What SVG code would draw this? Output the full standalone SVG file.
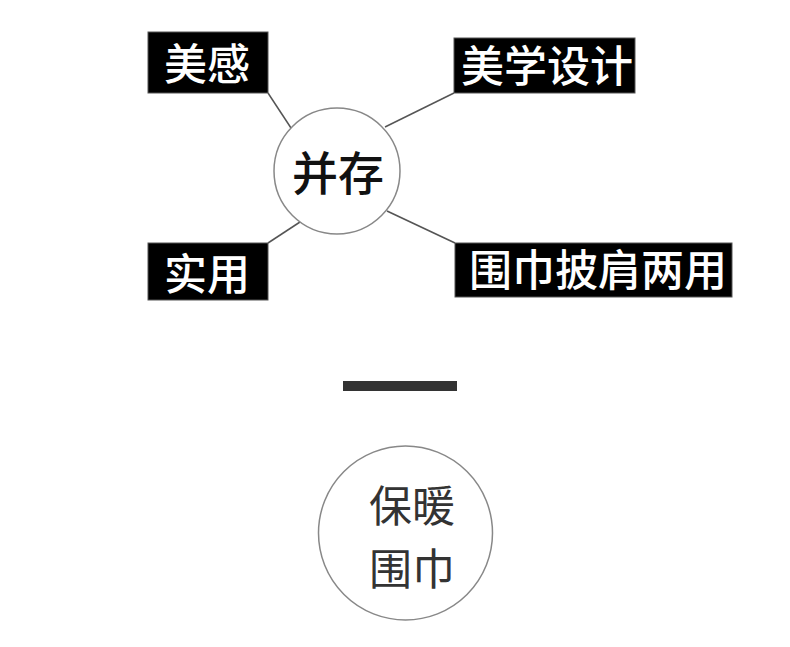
<svg xmlns="http://www.w3.org/2000/svg" width="790" height="647" viewBox="0 0 790 647">
<style>
.box{fill:#000;stroke:#555;stroke-width:1}
.bt{fill:#fff;font-family:"Noto Sans CJK SC","Noto Sans",sans-serif;font-size:43px;font-weight:500}
.ct{fill:#111;font-family:"Noto Sans CJK SC","Noto Sans",sans-serif;font-size:46px;font-weight:500;text-anchor:middle}
.circ{fill:#fff;stroke:#888;stroke-width:1.5}
.conn{stroke:#555;stroke-width:1.5;fill:none}
</style>
<rect width="790" height="647" fill="#fff"/>
<g id="connectors">
<line class="conn" x1="268" y1="93" x2="291" y2="128"/>
<line class="conn" x1="454" y1="93" x2="385" y2="127"/>
<line class="conn" x1="300" y1="222" x2="268" y2="243"/>
<line class="conn" x1="387" y1="211" x2="455" y2="243"/>
</g>
<g id="center">
<circle class="circ" cx="337" cy="171" r="63"/>
<text class="ct" x="338" y="190">并存</text>
</g>
<g id="meigan">
<rect class="box" x="148" y="32" width="120" height="61"/>
<text class="bt" x="164" y="80">美感</text>
</g>
<g id="meixuesheji">
<rect class="box" x="454" y="38" width="181" height="55"/>
<text class="bt" x="461" y="82">美学设计</text>
</g>
<g id="shiyong">
<rect class="box" x="148" y="243" width="120" height="57"/>
<text class="bt" x="164" y="290">实用</text>
</g>
<g id="weijin">
<rect class="box" x="455" y="243" width="277" height="54"/>
<text class="bt" x="469" y="286">围巾披肩两用</text>
</g>
<g id="bar">
<rect x="343" y="381" width="114" height="10" fill="#333"/>
</g>
<g id="baonuan">
<circle class="circ" cx="405.5" cy="533" r="87"/>
<text class="ct" x="412" y="522" style="fill:#333;font-weight:400;font-size:43px">保暖</text>
<text class="ct" x="412" y="585" style="fill:#333;font-weight:400;font-size:43px">围巾</text>
</g>
</svg>
